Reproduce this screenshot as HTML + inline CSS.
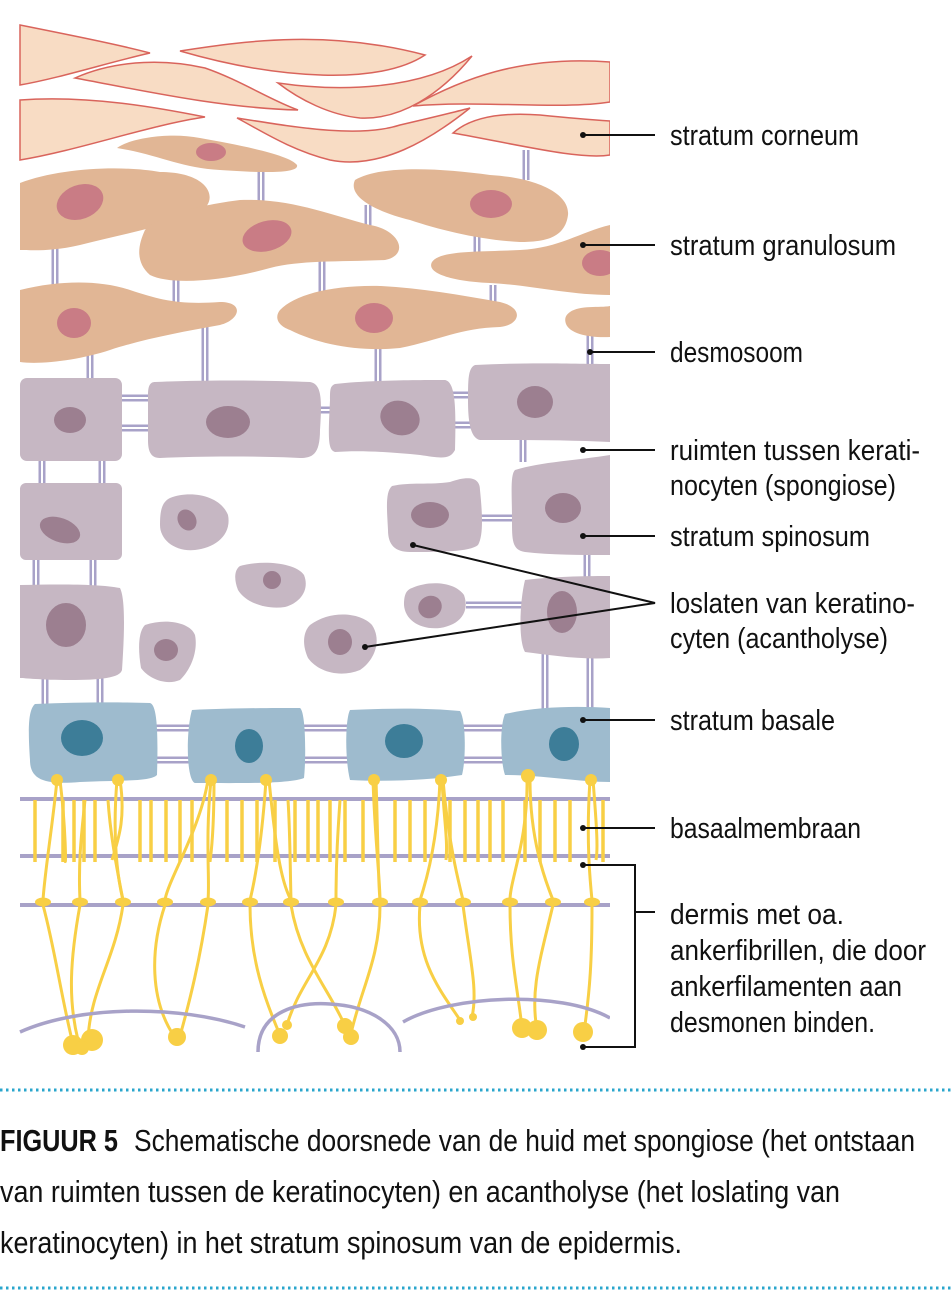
<!DOCTYPE html>
<html><head><meta charset="utf-8"><style>
html,body{margin:0;padding:0;background:#fff;}
svg{display:block;}
text{font-family:"Liberation Sans Narrow","Liberation Sans",sans-serif;fill:#111;}
</style></head><body>
<svg width="951" height="1300" viewBox="0 0 951 1300" xmlns="http://www.w3.org/2000/svg">
<defs>
<clipPath id="c"><rect x="0" y="0" width="610" height="1070"/></clipPath>
</defs>
<g clip-path="url(#c)">
<g stroke="#a8a2c8" stroke-width="7" fill="none">
<path d="M261 170V205 M526 150V180 M55 245V290 M176 270V310 M322 255V295 M368 205V230 M477 235V255 M493 285V305 M90 345V385 M205 320V385 M378 345V385 M590 330V368 M42 455V490 M102 455V490 M523 435V462 M36 555V590 M93 555V590 M587 550V580 M45 675V710 M100 675V710 M545 650V710 M590 650V710"/>
<path d="M118 398H152 M118 428H152 M318 410H333 M452 395H472 M452 425H472 M480 518H512 M466 605H522 M155 728H190 M155 760H190 M302 728H348 M302 760H348 M462 728H505 M462 760H505"/>
</g>
<g stroke="#fff" stroke-width="2" fill="none">
<path d="M261 170V205 M526 150V180 M55 245V290 M176 270V310 M322 255V295 M368 205V230 M477 235V255 M493 285V305 M90 345V385 M205 320V385 M378 345V385 M590 330V368 M42 455V490 M102 455V490 M523 435V462 M36 555V590 M93 555V590 M587 550V580 M45 675V710 M100 675V710 M545 650V710 M590 650V710"/>
<path d="M118 398H152 M118 428H152 M318 410H333 M452 395H472 M452 425H472 M480 518H512 M466 605H522 M155 728H190 M155 760H190 M302 728H348 M302 760H348 M462 728H505 M462 760H505"/>
</g>
<g fill="#f8dcc4" stroke="#d9645c" stroke-width="1.5">
<path d="M20 25 C70 35 120 45 150 53 C110 62 60 78 20 85Z"/>
<path d="M180 51 C250 40 330 30 425 55 C380 85 280 80 180 51Z"/>
<path d="M75 78 C120 58 170 60 205 68 C240 80 270 100 298 110 C220 108 140 90 75 78Z"/>
<path d="M20 100 C90 95 160 108 205 117 C150 125 80 150 20 160Z"/>
<path d="M278 83 C340 92 420 90 472 56 C440 95 400 120 360 118 C330 115 300 100 278 83Z"/>
<path d="M413 106 C460 80 520 55 610 62 V102 C560 110 480 100 413 106Z"/>
<path d="M237 118 C300 128 360 138 400 125 C430 118 455 112 470 108 C430 140 380 170 330 160 C290 150 260 130 237 118Z"/>
<path d="M453 133 C470 118 500 112 540 115 C570 118 595 120 610 121 V155 C580 160 520 145 453 133Z"/>
</g>
<g fill="#e1b695">
<path d="M117 148 C130 138 170 132 200 138 C240 145 290 155 297 165 C300 175 250 172 220 170 C180 168 160 155 117 148Z"/>
<path d="M20 183 C60 168 120 165 160 172 C210 172 220 200 200 212 C170 225 120 235 80 245 C50 252 30 250 20 250Z"/>
<path d="M145 230 C160 215 200 205 240 200 C290 198 330 215 370 225 C400 230 410 255 385 260 C340 262 300 260 270 268 C220 282 170 285 150 275 C135 262 138 245 145 230Z"/>
<path d="M355 180 C380 165 440 168 490 175 C540 178 570 195 568 215 C565 238 545 242 520 242 C480 240 440 230 410 220 C370 210 348 195 355 180Z"/>
<path d="M432 262 C440 250 480 252 520 250 C560 248 580 232 610 225 V295 C570 295 530 285 490 283 C460 282 425 275 432 262Z"/>
<path d="M20 290 C60 280 100 280 130 290 C160 300 180 305 220 302 C245 302 240 320 220 325 C180 332 140 340 110 350 C80 360 40 365 20 362Z"/>
<path d="M280 310 C295 295 330 285 380 286 C420 288 460 295 500 302 C525 308 520 325 500 327 C460 328 440 340 400 348 C360 352 320 345 290 330 C276 325 275 316 280 310Z"/>
<path d="M570 312 C580 305 600 308 610 306 V337 C590 338 570 334 566 324 C564 318 566 315 570 312Z"/>
</g>
<g fill="#c97c85">
<ellipse cx="211" cy="152" rx="15" ry="9"/>
<ellipse cx="80" cy="202" rx="24" ry="17" transform="rotate(-20 80 202)"/>
<ellipse cx="267" cy="236" rx="25" ry="15" transform="rotate(-15 267 236)"/>
<ellipse cx="491" cy="204" rx="21" ry="14"/>
<ellipse cx="600" cy="263" rx="18" ry="13"/>
<ellipse cx="74" cy="323" rx="17" ry="15"/>
<ellipse cx="374" cy="318" rx="19" ry="15"/>
</g>
<g fill="#c6b7c3">
<rect x="20" y="378" width="102" height="83" rx="7"/>
<path d="M155 382 C200 380 260 380 310 382 C322 384 322 400 320 430 C320 455 312 458 300 458 C260 456 200 456 160 458 C150 458 148 450 148 440 V395 C148 386 150 382 155 382Z"/>
<path d="M335 384 C370 380 420 380 445 380 C456 382 456 410 455 450 C450 460 440 458 420 455 C390 452 360 450 335 452 C328 450 328 440 330 400 C330 390 330 386 335 384Z"/>
<path d="M475 365 C530 362 580 364 610 364 V442 C570 440 520 440 480 440 C470 438 468 420 468 400 C468 380 468 368 475 365Z"/>
<rect x="20" y="483" width="102" height="77" rx="6"/>
<path d="M170 498 C190 490 220 495 228 515 C232 535 215 548 195 550 C175 552 160 540 160 525 C160 510 162 502 170 498Z"/>
<path d="M392 486 C410 482 430 485 450 482 C470 475 480 478 480 490 C482 510 484 535 478 545 C470 552 440 552 410 552 C395 552 388 545 388 530 C387 510 385 492 392 486Z"/>
<path d="M515 470 C540 462 580 460 610 455 V555 C580 555 550 555 525 552 C512 550 512 540 512 520 C512 495 510 475 515 470Z"/>
<path d="M20 585 C60 584 100 584 120 588 C126 600 124 640 122 670 C120 678 100 680 70 680 C40 680 25 678 20 678Z"/>
<path d="M145 625 C165 618 190 622 195 635 C198 650 192 668 180 680 C165 686 148 678 141 668 C138 650 138 632 145 625Z"/>
<path d="M240 566 C260 560 295 562 304 575 C310 590 300 603 285 607 C265 610 245 602 238 590 C234 580 234 570 240 566Z"/>
<path d="M310 625 C330 610 360 612 372 625 C382 640 375 660 360 670 C340 678 318 672 308 658 C302 645 303 632 310 625Z"/>
<path d="M412 588 C430 580 455 582 464 595 C470 612 460 625 440 628 C420 630 405 620 404 605 C404 595 406 590 412 588Z"/>
<path d="M525 580 C560 576 590 576 610 576 V658 C580 660 550 655 525 652 C518 640 520 600 525 580Z"/>
</g>
<g fill="#9c7f90">
<ellipse cx="70" cy="420" rx="16" ry="13"/>
<ellipse cx="228" cy="422" rx="22" ry="16"/>
<ellipse cx="400" cy="418" rx="20" ry="17" transform="rotate(20 400 418)"/>
<ellipse cx="535" cy="402" rx="18" ry="16"/>
<ellipse cx="60" cy="530" rx="21" ry="12" transform="rotate(20 60 530)"/>
<ellipse cx="187" cy="520" rx="9" ry="11" transform="rotate(-30 187 520)"/>
<ellipse cx="430" cy="515" rx="19" ry="13"/>
<ellipse cx="563" cy="508" rx="18" ry="15"/>
<ellipse cx="66" cy="625" rx="20" ry="22"/>
<ellipse cx="166" cy="650" rx="12" ry="11"/>
<ellipse cx="272" cy="580" rx="9" ry="9"/>
<ellipse cx="340" cy="642" rx="12" ry="13"/>
<ellipse cx="430" cy="607" rx="12" ry="11" transform="rotate(-30 430 607)"/>
<ellipse cx="562" cy="612" rx="15" ry="21"/>
</g>
<g fill="#9ebbce">
<path d="M35 704 C80 702 120 702 150 703 C158 705 158 740 157 775 C150 782 120 780 80 782 C45 785 30 780 30 760 C28 730 28 710 35 704Z"/>
<path d="M192 710 C230 708 270 708 300 708 C306 712 306 760 304 778 C290 784 240 783 195 783 C186 780 186 730 192 710Z"/>
<path d="M350 710 C390 708 430 708 460 711 C466 720 466 760 462 775 C430 780 390 782 350 780 C345 760 345 720 350 710Z"/>
<path d="M505 714 C540 706 580 706 610 708 V782 C580 782 540 775 505 775 C500 760 500 725 505 714Z"/>
</g>
<g fill="#3d7d98">
<ellipse cx="82" cy="738" rx="21" ry="18"/>
<ellipse cx="249" cy="746" rx="14" ry="17"/>
<ellipse cx="404" cy="741" rx="19" ry="17"/>
<ellipse cx="564" cy="744" rx="15" ry="17"/>
</g>
<g stroke="#a8a2c8" stroke-width="4">
<path d="M20 799H610 M20 856H610 M20 905H610"/>
</g>
<g stroke="#f8cf45" stroke-width="3.5" fill="none">
<path d="M35 800V862 M63 800V862 M74 800V862 M84 800V862 M95 800V862 M140 800V862 M151 800V862 M166 800V862 M180 800V862 M192 800V862 M227 800V862 M242 800V862 M257 800V862 M275 800V862 M295 800V862 M308 800V862 M318 800V862 M330 800V862 M345 800V862 M363 800V862 M395 800V862 M410 800V862 M425 800V862 M450 800V862 M465 800V862 M478 800V862 M490 800V862 M503 800V862 M525 800V862 M540 800V862 M555 800V862 M570 800V862 M603 800V862"/>
<g stroke-width="3">
<path d="M57 780 C52 830 45 870 43 900 M60 780 C66 830 66 870 65 860"/>
<path d="M117 780 C112 840 118 880 123 900 M120 780 C126 820 118 840 112 860"/>
<path d="M211 780 C205 840 210 880 208 900 M214 780 C214 840 210 860 210 862 M208 780 C200 830 168 880 165 900"/>
<path d="M266 780 C262 840 255 880 250 900 M269 780 C275 840 280 880 291 900"/>
<path d="M373 780 C375 840 380 880 380 900 M376 780 C378 840 378 880 380 900"/>
<path d="M440 780 C438 830 430 870 420 900 M443 780 C448 840 458 880 463 900 M442 780 C444 820 448 840 446 860"/>
<path d="M527 780 C528 840 510 880 510 900 M530 780 C530 840 545 880 553 900"/>
<path d="M590 780 C586 840 590 880 592 900 M593 780 C597 830 598 850 596 860"/>
<path d="M80 900 C78 860 82 830 85 800 M123 900 C115 860 110 830 108 800 M336 900 C336 860 338 830 340 800 M291 900 C290 860 290 830 288 800"/>
</g>
<g stroke-width="3">
<path d="M43 905 C55 950 60 990 72 1040 M80 905 C70 960 68 1000 78 1040 M123 905 C115 960 90 990 88 1040"/>
<path d="M165 905 C150 950 150 1000 174 1036 M208 905 C200 960 190 1000 180 1036"/>
<path d="M250 905 C250 960 265 1000 280 1035 M291 905 C300 960 330 990 346 1028 M336 905 C330 960 300 980 287 1025 M380 905 C380 960 360 990 350 1038"/>
<path d="M420 905 C415 960 440 990 460 1020 M463 905 C470 960 478 990 472 1017"/>
<path d="M510 905 C510 960 518 990 522 1028 M553 905 C540 960 530 990 537 1030 M592 905 C592 960 590 990 584 1032"/>
</g>
</g>
<g fill="#f8cf45">
<ellipse cx="43" cy="902" rx="8" ry="4.5"/><ellipse cx="80" cy="902" rx="8" ry="4.5"/><ellipse cx="123" cy="902" rx="8" ry="4.5"/><ellipse cx="165" cy="902" rx="8" ry="4.5"/><ellipse cx="208" cy="902" rx="8" ry="4.5"/><ellipse cx="250" cy="902" rx="8" ry="4.5"/><ellipse cx="291" cy="902" rx="8" ry="4.5"/><ellipse cx="336" cy="902" rx="8" ry="4.5"/><ellipse cx="380" cy="902" rx="8" ry="4.5"/><ellipse cx="420" cy="902" rx="8" ry="4.5"/><ellipse cx="463" cy="902" rx="8" ry="4.5"/><ellipse cx="510" cy="902" rx="8" ry="4.5"/><ellipse cx="553" cy="902" rx="8" ry="4.5"/><ellipse cx="592" cy="902" rx="8" ry="4.5"/>
<circle cx="57" cy="780" r="6"/><circle cx="118" cy="780" r="6"/><circle cx="211" cy="780" r="6"/><circle cx="266" cy="780" r="6"/><circle cx="374" cy="780" r="6"/><circle cx="441" cy="780" r="6"/><circle cx="528" cy="776" r="7"/><circle cx="591" cy="780" r="6"/>
<circle cx="73" cy="1045" r="10"/><circle cx="92" cy="1040" r="11"/><circle cx="82" cy="1048" r="7"/>
<circle cx="177" cy="1037" r="9"/><circle cx="280" cy="1036" r="8"/><circle cx="287" cy="1025" r="5"/>
<circle cx="345" cy="1026" r="8"/><circle cx="351" cy="1037" r="8"/>
<circle cx="460" cy="1021" r="4"/><circle cx="473" cy="1017" r="4"/>
<circle cx="522" cy="1028" r="10"/><circle cx="537" cy="1030" r="10"/><circle cx="583" cy="1032" r="10"/>
</g>
<g stroke="#a8a2c8" stroke-width="3.5" fill="none">
<path d="M20 1032 C80 1005 180 1005 245 1027"/>
<path d="M258 1052 C258 1010 300 1002 330 1004 C370 1006 400 1025 400 1052"/>
<path d="M403 1022 C450 995 560 990 610 1018"/>
</g>
</g>
<g stroke="#111" stroke-width="2" fill="none">
<path d="M583 135H655 M583 245H655 M590 352H655 M583 450H655 M583 536H655 M583 720H655 M583 828H655"/>
<path d="M413 545L655 603L365 647"/>
<path d="M583 865H635V1047H583 M635 912H655"/>
</g>
<g fill="#111">
<circle cx="583" cy="135" r="3"/><circle cx="583" cy="245" r="3"/><circle cx="590" cy="352" r="3"/><circle cx="583" cy="450" r="3"/><circle cx="583" cy="536" r="3"/><circle cx="413" cy="545" r="3"/><circle cx="365" cy="647" r="3"/><circle cx="583" cy="720" r="3"/><circle cx="583" cy="828" r="3"/><circle cx="583" cy="865" r="3"/><circle cx="583" cy="1047" r="3"/>
</g>
<g font-size="29">
<text x="670" y="145" textLength="189" lengthAdjust="spacingAndGlyphs">stratum corneum</text>
<text x="670" y="255" textLength="226" lengthAdjust="spacingAndGlyphs">stratum granulosum</text>
<text x="670" y="362" textLength="133" lengthAdjust="spacingAndGlyphs">desmosoom</text>
<text x="670" y="460" textLength="250" lengthAdjust="spacingAndGlyphs">ruimten tussen kerati-</text>
<text x="670" y="495" textLength="226" lengthAdjust="spacingAndGlyphs">nocyten (spongiose)</text>
<text x="670" y="546" textLength="200" lengthAdjust="spacingAndGlyphs">stratum spinosum</text>
<text x="670" y="613" textLength="245" lengthAdjust="spacingAndGlyphs">loslaten van keratino-</text>
<text x="670" y="648" textLength="218" lengthAdjust="spacingAndGlyphs">cyten (acantholyse)</text>
<text x="670" y="730" textLength="165" lengthAdjust="spacingAndGlyphs">stratum basale</text>
<text x="670" y="838" textLength="191" lengthAdjust="spacingAndGlyphs">basaalmembraan</text>
<text x="670" y="924" textLength="174" lengthAdjust="spacingAndGlyphs">dermis met oa.</text>
<text x="670" y="960" textLength="256" lengthAdjust="spacingAndGlyphs">ankerfibrillen, die door</text>
<text x="670" y="996" textLength="232" lengthAdjust="spacingAndGlyphs">ankerfilamenten aan</text>
<text x="670" y="1032" textLength="205" lengthAdjust="spacingAndGlyphs">desmonen binden.</text>
</g>
<g stroke="#2aa6cc" stroke-width="3" stroke-dasharray="2.5 3.5">
<path d="M0 1090H951 M0 1288H951"/>
</g>
<g font-size="31">
<text x="0" y="1151" font-weight="bold" textLength="118" lengthAdjust="spacingAndGlyphs">FIGUUR 5</text>
<text x="134" y="1151" textLength="781" lengthAdjust="spacingAndGlyphs">Schematische doorsnede van de huid met spongiose (het ontstaan</text>
<text x="0" y="1202" textLength="840" lengthAdjust="spacingAndGlyphs">van ruimten tussen de keratinocyten) en acantholyse (het loslating van</text>
<text x="0" y="1253" textLength="682" lengthAdjust="spacingAndGlyphs">keratinocyten) in het stratum spinosum van de epidermis.</text>
</g>
</svg>
</body></html>
